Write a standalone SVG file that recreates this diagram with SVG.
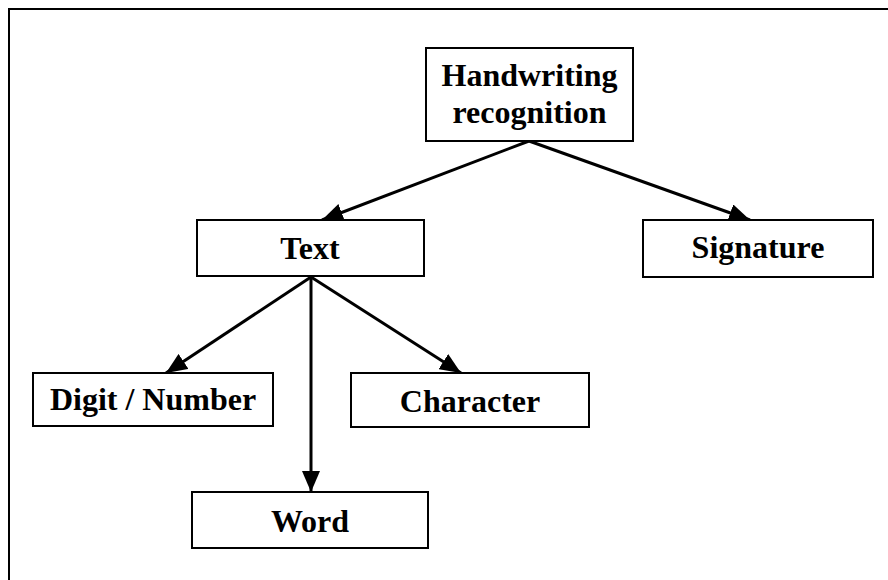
<svg xmlns="http://www.w3.org/2000/svg" width="888" height="580" viewBox="0 0 888 580">
<style>
.box{fill:#fff;stroke:#000;stroke-width:2}
.lbl{font-family:"Liberation Serif","Times New Roman",serif;font-weight:bold;font-size:32px;fill:#000;text-anchor:middle}
.edge{stroke:#000;stroke-width:3;fill:none;marker-end:url(#ah)}
</style>
<defs>
<marker id="ah" markerUnits="userSpaceOnUse" markerWidth="22" markerHeight="18" viewBox="0 0 22 18" refX="21" refY="9" orient="auto">
<path d="M0,0 L21,9 L0,18 Z" fill="#000"/>
</marker>
</defs>
<rect x="0" y="0" width="888" height="580" fill="#fff"/>
<rect x="9" y="9" width="900" height="600" fill="none" stroke="#000" stroke-width="2"/>
<g id="connectors">
<line class="edge" x1="529" y1="141" x2="322" y2="220"/>
<line class="edge" x1="529" y1="141" x2="750" y2="220"/>
<line class="edge" x1="311" y1="277" x2="166" y2="373"/>
<line class="edge" x1="311" y1="277" x2="461" y2="373"/>
<line class="edge" x1="311" y1="277" x2="311" y2="492"/>
</g>
<g id="n-handwriting">
<rect class="box" x="426" y="48" width="207" height="93"/>
<text class="lbl" x="529.5" y="86">Handwriting</text>
<text class="lbl" x="529.5" y="123">recognition</text>
</g>
<g id="n-text">
<rect class="box" x="197" y="220" width="227" height="56"/>
<text class="lbl" x="310" y="259">Text</text>
</g>
<g id="n-signature">
<rect class="box" x="643" y="220" width="230" height="57"/>
<text class="lbl" x="758" y="258">Signature</text>
</g>
<g id="n-digit">
<rect class="box" x="33" y="373" width="240" height="53"/>
<text class="lbl" x="153" y="410">Digit / Number</text>
</g>
<g id="n-character">
<rect class="box" x="351" y="373" width="238" height="54"/>
<text class="lbl" x="470" y="412">Character</text>
</g>
<g id="n-word">
<rect class="box" x="192" y="492" width="236" height="56"/>
<text class="lbl" x="310" y="532">Word</text>
</g>
</svg>
